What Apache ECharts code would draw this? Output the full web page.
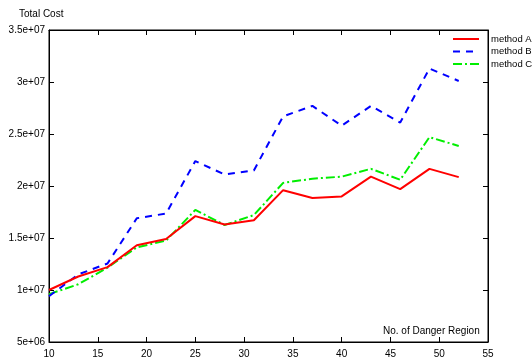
<!DOCTYPE html>
<html>
<head>
<meta charset="utf-8">
<script src="https://cdn.jsdelivr.net/npm/echarts@6/dist/echarts.min.js"></script>
<style>
  html, body { margin: 0; padding: 0; background: #fff; }
  #chart { width: 532px; height: 360px; }
</style>
</head>
<body>
<div id="chart"></div>
<script>
// number of danger regions
const regions = [10, 13, 16, 19, 22, 25, 28, 31, 34, 37, 40, 43, 46, 49, 52];
// total cost per method
const methodA = [1.0e7, 1.13e7, 1.22e7, 1.43e7, 1.49e7, 1.71e7, 1.63e7, 1.67e7, 1.96e7, 1.885e7, 1.90e7, 2.09e7, 1.97e7, 2.165e7, 2.085e7];
const methodB = [9.4e6, 1.15e7, 1.255e7, 1.69e7, 1.735e7, 2.24e7, 2.11e7, 2.15e7, 2.67e7, 2.77e7, 2.58e7, 2.77e7, 2.61e7, 3.13e7, 3.01e7];
const methodC = [9.6e6, 1.055e7, 1.215e7, 1.41e7, 1.475e7, 1.77e7, 1.625e7, 1.72e7, 2.03e7, 2.07e7, 2.09e7, 2.165e7, 2.06e7, 2.47e7, 2.385e7];
const seriesNames = ['method A', 'method B', 'method C'];

const font = 'Liberation Sans, Arial, sans-serif';

// gnuplot style labels: 3.5e+07, 1e+07 ...
function sci(v) {
  const parts = v.toExponential().split('e');
  const exp = parts[1];
  let digits = exp.slice(1);
  if (digits.length < 2) digits = '0' + digits;
  return parts[0] + 'e' + exp[0] + digits;
}

function pairs(ys) {
  return regions.map((x, i) => [x, ys[i]]);
}

const chart = echarts.init(document.getElementById('chart'));

const tickStyle = { show: true, inside: true, length: 5, lineStyle: { color: '#000', width: 1 } };

chart.setOption({
  animation: false,
  grid: {
    left: 49,
    right: 44,
    top: 30,
    bottom: 18,
    show: true,
    borderColor: '#000',
    borderWidth: 1,
  },
  legend: {
    orient: 'vertical',
    left: 452,
    top: 33,
    padding: 0,
    itemWidth: 26,
    itemHeight: 12,
    itemGap: 0.5,
    data: seriesNames,
    itemStyle: { opacity: 0 },
    textStyle: {
      fontFamily: font,
      fontSize: 9.5,
      lineHeight: 12,
      color: '#000',
      padding: [0, 0, 0, 7],
    },
  },
  graphic: [
    {
      type: 'text',
      left: 19,
      top: 9,
      style: { text: 'Total Cost', fontFamily: font, fontSize: 10, fill: '#000' },
    },
    {
      type: 'text',
      left: 383,
      top: 326,
      style: { text: 'No. of Danger Region', fontFamily: font, fontSize: 10, fill: '#000' },
    },
  ],
  xAxis: [
    {
      type: 'value',
      min: 10,
      max: 55,
      interval: 5,
      axisLine: { show: true, lineStyle: { color: '#000' } },
      axisTick: tickStyle,
      splitLine: { show: false },
      axisLabel: { fontFamily: font, fontSize: 10, color: '#000', margin: 7 },
    },
    {
      type: 'value',
      position: 'top',
      min: 10,
      max: 55,
      interval: 5,
      axisLine: { show: true, lineStyle: { color: '#000' } },
      axisTick: tickStyle,
      splitLine: { show: false },
      axisLabel: { show: false },
    },
  ],
  yAxis: [
    {
      type: 'value',
      min: 5e6,
      max: 3.5e7,
      interval: 5e6,
      axisLine: { show: true, lineStyle: { color: '#000' } },
      axisTick: tickStyle,
      splitLine: { show: false },
      axisLabel: {
        fontFamily: font,
        fontSize: 10,
        color: '#000',
        margin: 4,
        formatter: sci,
      },
    },
    {
      type: 'value',
      position: 'right',
      min: 5e6,
      max: 3.5e7,
      interval: 5e6,
      axisLine: { show: true, lineStyle: { color: '#000' } },
      axisTick: tickStyle,
      splitLine: { show: false },
      axisLabel: { show: false },
    },
  ],
  series: [
    {
      name: seriesNames[0],
      type: 'line',
      symbol: 'none',
      data: pairs(methodA),
      lineStyle: { color: '#ff0000', width: 2 },
      itemStyle: { color: '#ff0000' },
      z: 3,
    },
    {
      name: seriesNames[1],
      type: 'line',
      symbol: 'none',
      data: pairs(methodB),
      lineStyle: { color: '#0000ff', width: 2, type: [7, 6] },
      itemStyle: { color: '#0000ff' },
      z: 2,
    },
    {
      name: seriesNames[2],
      type: 'line',
      symbol: 'none',
      data: pairs(methodC),
      lineStyle: { color: '#00ee00', width: 2, type: [9, 3, 2, 3] },
      itemStyle: { color: '#00ee00' },
      z: 1,
    },
  ],
});
</script>
</body>
</html>
